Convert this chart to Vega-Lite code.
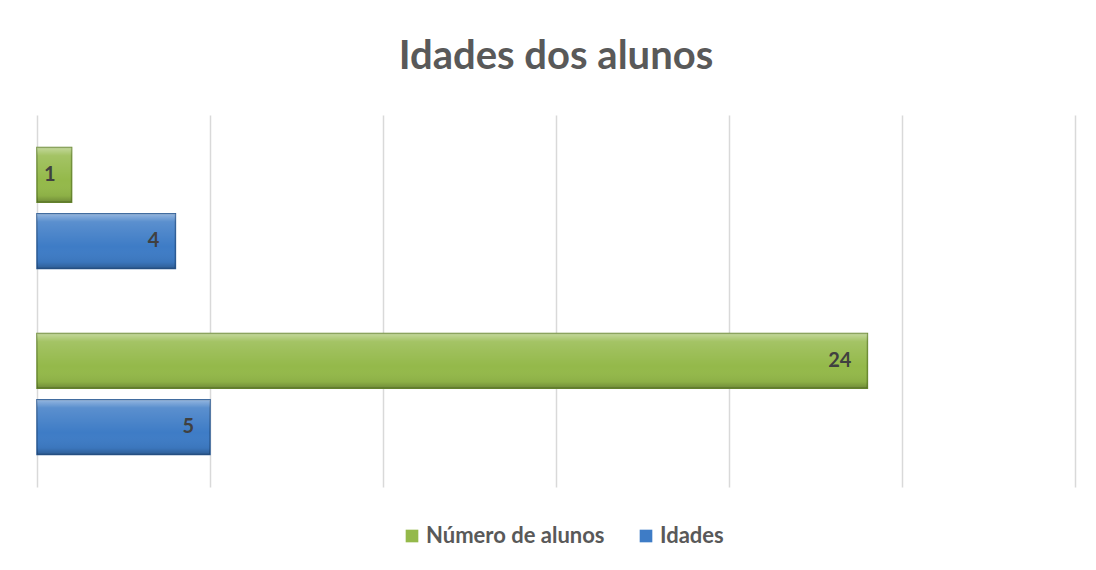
{
  "$schema": "https://vega.github.io/schema/vega-lite/v6.json",
  "width": 1038,
  "height": 372,
  "autosize": "none",
  "padding": {"left": 37, "top": 115, "right": 21, "bottom": 83},
  "background": "white",
  "title": {
    "text": "Idades dos alunos",
    "font": "Lato",
    "fontSize": 40,
    "fontWeight": "bold",
    "color": "#595959",
    "anchor": "middle",
    "offset": 38
  },
  "data": {
    "values": [
      {"grupo": "A", "serie": "Número de alunos", "valor": 1},
      {"grupo": "A", "serie": "Idades", "valor": 4},
      {"grupo": "B", "serie": "Número de alunos", "valor": 24},
      {"grupo": "B", "serie": "Idades", "valor": 5}
    ]
  },
  "encoding": {
    "y": {
      "field": "grupo",
      "type": "nominal",
      "sort": ["A", "B"],
      "scale": {"paddingInner": 0, "paddingOuter": 0},
      "axis": null
    },
    "yOffset": {
      "field": "serie",
      "type": "nominal",
      "sort": ["Número de alunos", "Idades"],
      "scale": {"paddingInner": 0.17, "paddingOuter": 0.49}
    },
    "x": {
      "field": "valor",
      "type": "quantitative",
      "scale": {"domain": [0, 30], "nice": false},
      "axis": {
        "title": null,
        "labels": false,
        "ticks": false,
        "domain": false,
        "grid": true,
        "values": [0, 5, 10, 15, 20, 25, 30],
        "gridColor": "#d9d9d9",
        "gridWidth": 1.5
      }
    }
  },
  "layer": [
    {
      "mark": {"type": "bar", "strokeWidth": 1.5},
      "encoding": {
        "color": {
          "field": "serie",
          "type": "nominal",
          "scale": {"domain": ["Número de alunos", "Idades"], "range": ["#94b94a", "#3e7cc6"]},
          "legend": {
            "title": null,
            "orient": "none",
            "legendX": 364,
            "legendY": 410,
            "direction": "horizontal",
            "symbolType": "square",
            "symbolSize": 160,
            "symbolStrokeWidth": 0,
            "labelFont": "Lato",
            "labelFontSize": 22,
            "labelFontWeight": "bold",
            "labelColor": "#595959",
            "labelLimit": 400,
            "columnPadding": 30,
            "labelOffset": 3
          }
        },
        "stroke": {
          "field": "serie",
          "type": "nominal",
          "scale": {"domain": ["Número de alunos", "Idades"], "range": ["#6a8a30", "#2a5a94"]},
          "legend": null
        }
      }
    },
    {
      "mark": {
        "type": "bar",
        "fill": {
          "gradient": "linear",
          "x1": 0, "y1": 0, "x2": 0, "y2": 1,
          "stops": [
            {"offset": 0, "color": "rgba(255,255,255,0.45)"},
            {"offset": 0.15, "color": "rgba(255,255,255,0.15)"},
            {"offset": 0.6, "color": "rgba(255,255,255,0)"},
            {"offset": 0.88, "color": "rgba(0,0,0,0.05)"},
            {"offset": 1, "color": "rgba(0,0,0,0.25)"}
          ]
        }
      }
    },
    {
      "mark": {
        "type": "text",
        "align": "right",
        "baseline": "middle",
        "dx": -16,
        "font": "Lato",
        "fontSize": 20,
        "fontWeight": "bold",
        "color": "#404040"
      },
      "encoding": {
        "text": {"field": "valor", "type": "quantitative"}
      }
    }
  ],
  "config": {
    "view": {"stroke": null}
  }
}
